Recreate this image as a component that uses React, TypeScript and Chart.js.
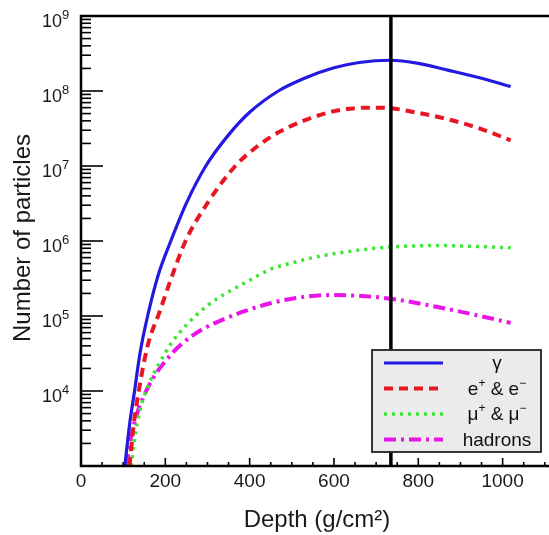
import React, { useEffect, useRef } from "react";
import { Chart, registerables } from "chart.js";

Chart.register(...registerables);

// ---- data (depth in g/cm^2, number of particles) ----
const gammaDepth = [104, 115, 127, 140, 158, 183, 213, 250, 296, 350, 400, 468, 530, 600, 660, 734, 800, 870, 950, 1019];
const gammaCount = [1.0e3, 3.5e3, 1.0e4, 3.2e4, 1.0e5, 3.5e5, 1.0e6, 3.2e6, 1.0e7, 2.6e7, 5.2e7, 1.0e8, 1.48e8, 2.04e8, 2.4e8, 2.57e8, 2.34e8, 1.9e8, 1.48e8, 1.15e8];

const elecDepth = [115, 124, 137, 158, 186, 215, 248, 300, 366, 420, 473, 527, 608, 686, 734, 800, 870, 950, 1019];
const elecCount = [1.0e3, 3.2e3, 1.0e4, 4.0e4, 1.12e5, 3.3e5, 1.0e6, 3.2e6, 1.0e7, 1.86e7, 2.9e7, 4.0e7, 5.5e7, 6.0e7, 5.9e7, 5.1e7, 4.2e7, 3.1e7, 2.2e7];

const muonDepth = [119, 128, 140, 160, 185, 215, 250, 300, 350, 400, 449, 500, 568, 663, 734, 845, 930, 1019];
const muonCount = [1.0e3, 2.5e3, 5.6e3, 1.2e4, 2.3e4, 4.4e4, 7.6e4, 1.38e5, 2.1e5, 3.0e5, 4.2e5, 5.1e5, 6.3e5, 7.6e5, 8.3e5, 8.7e5, 8.5e5, 8.1e5];

const hadronDepth = [108, 116, 130, 148, 170, 200, 240, 285, 335, 390, 449, 510, 591, 660, 734, 845, 940, 1019];
const hadronCount = [1.0e3, 2.0e3, 4.4e3, 8.3e3, 1.45e4, 2.5e4, 4.3e4, 6.5e4, 8.9e4, 1.17e5, 1.48e5, 1.74e5, 1.9e5, 1.86e5, 1.7e5, 1.32e5, 1.02e5, 8.1e4];

const markerDepth = 735;
const xTickLabels = [0, 200, 400, 600, 800, 1000];
const yDecades = [4, 5, 6, 7, 8, 9];

const FONT = "'Liberation Sans', Arial, Helvetica, sans-serif";
const BLUE = "rgb(35,25,225)";
const RED = "rgb(232,22,34)";
const GREEN = "rgb(60,230,50)";
const MAGENTA = "rgb(232,20,232)";

type Part = { t: string; sup?: boolean };

function richWidth(ctx: CanvasRenderingContext2D, parts: Part[], fs: number) {
  let w = 0;
  for (const p of parts) {
    ctx.font = `${p.sup ? Math.round(fs * 0.65) : fs}px ${FONT}`;
    w += ctx.measureText(p.t).width;
  }
  return w;
}

function drawRich(ctx: CanvasRenderingContext2D, parts: Part[], x: number, y: number, fs: number, align: "left" | "center" | "right") {
  const w = richWidth(ctx, parts, fs);
  let cx = align === "left" ? x : align === "center" ? x - w / 2 : x - w;
  ctx.textAlign = "left";
  ctx.textBaseline = "alphabetic";
  for (const p of parts) {
    const s = p.sup ? Math.round(fs * 0.65) : fs;
    ctx.font = `${s}px ${FONT}`;
    ctx.fillText(p.t, cx, p.sup ? y - fs * 0.42 : y);
    cx += ctx.measureText(p.t).width;
  }
}

const legendItems: { parts: Part[]; color: string; dash: number[]; width: number }[] = [
  { parts: [{ t: "γ" }], color: BLUE, dash: [], width: 3 },
  { parts: [{ t: "e" }, { t: "+", sup: true }, { t: " & e" }, { t: "−", sup: true }], color: RED, dash: [9, 6], width: 4 },
  { parts: [{ t: "μ" }, { t: "+", sup: true }, { t: " & μ" }, { t: "−", sup: true }], color: GREEN, dash: [3, 5], width: 3.5 },
  { parts: [{ t: "hadrons" }], color: MAGENTA, dash: [12, 5, 3, 5], width: 4 },
];

const decorPlugin = {
  id: "decor",
  afterDatasetsDraw(chart: any) {
    const ctx: CanvasRenderingContext2D = chart.ctx;
    const { left, right, top, bottom } = chart.chartArea;
    const xs = chart.scales.x;
    const ys = chart.scales.y;
    ctx.save();

    // legend box
    const lx = 372, ly = 350, lw = 169, lh = 102;
    ctx.fillStyle = "#ebebeb";
    ctx.fillRect(lx, ly, lw, lh);
    ctx.strokeStyle = "#222";
    ctx.lineWidth = 1.8;
    ctx.strokeRect(lx, ly, lw, lh);
    legendItems.forEach((it, i) => {
      const ry = 363 + i * 25.5;
      ctx.beginPath();
      ctx.setLineDash(it.dash);
      ctx.lineCap = "butt";
      ctx.strokeStyle = it.color;
      ctx.lineWidth = it.width;
      ctx.moveTo(384, ry);
      ctx.lineTo(443, ry);
      ctx.stroke();
      ctx.setLineDash([]);
      ctx.fillStyle = "#111";
      drawRich(ctx, it.parts, 497, ry + 6, 19, "center");
    });

    // frame
    ctx.strokeStyle = "#000";
    ctx.lineWidth = 2.5;
    ctx.beginPath();
    ctx.moveTo(right + 2, top);
    ctx.lineTo(left, top);
    ctx.lineTo(left, bottom);
    ctx.lineTo(right + 2, bottom);
    ctx.stroke();

    // x ticks (inside)
    ctx.lineWidth = 1.6;
    for (let v = 0; v <= 1100; v += 50) {
      const px = xs.getPixelForValue(v);
      if (px > right) break;
      const len = v % 200 === 0 ? 8 : 4;
      ctx.beginPath();
      ctx.moveTo(px, bottom);
      ctx.lineTo(px, bottom - len);
      ctx.stroke();
    }
    // y ticks (inside)
    for (let e = 3; e <= 8; e++) {
      for (let m = 1; m <= 9; m++) {
        const py = ys.getPixelForValue(m * Math.pow(10, e));
        const len = m === 1 ? 22 : 10;
        ctx.beginPath();
        ctx.moveTo(left, py);
        ctx.lineTo(left + len, py);
        ctx.stroke();
      }
    }
    {
      const py = ys.getPixelForValue(1e9);
      ctx.beginPath();
      ctx.moveTo(left, py);
      ctx.lineTo(left + 22, py);
      ctx.stroke();
    }

    // tick labels
    ctx.fillStyle = "#1a1a1a";
    ctx.font = `19px ${FONT}`;
    ctx.textAlign = "center";
    ctx.textBaseline = "alphabetic";
    for (const v of xTickLabels) {
      ctx.fillText(String(v), xs.getPixelForValue(v), 487);
    }
    for (const e of yDecades) {
      const py = ys.getPixelForValue(Math.pow(10, e));
      ctx.font = `18px ${FONT}`;
      ctx.textAlign = "right";
      ctx.fillText("10", 62, py + 11);
      ctx.font = `13px ${FONT}`;
      ctx.textAlign = "left";
      ctx.fillText(String(e), 62, py + 3);
    }

    // axis titles
    ctx.fillStyle = "#1a1a1a";
    ctx.font = `24px ${FONT}`;
    ctx.textAlign = "center";
    ctx.fillText("Depth (g/cm²)", 317, 527);
    ctx.save();
    ctx.translate(30, 238);
    ctx.rotate(-Math.PI / 2);
    ctx.fillText("Number of particles", 0, 0);
    ctx.restore();

    ctx.restore();
  },
};

function toPoints(xs: number[], ys: number[]) {
  return xs.map((x, i) => ({ x, y: ys[i] }));
}

export default function App() {
  const ref = useRef<HTMLCanvasElement | null>(null);
  useEffect(() => {
    if (!ref.current) return;
    const common = { pointRadius: 0, fill: false, cubicInterpolationMode: "monotone" as const, borderCapStyle: "butt" as const };
    const chart = new Chart(ref.current, {
      type: "line",
      data: {
        datasets: [
          { label: "marker", data: [{ x: markerDepth, y: 1e3 }, { x: markerDepth, y: 1e9 }], borderColor: "#000", borderWidth: 3.5, pointRadius: 0, order: 0 },
          { label: "γ", data: toPoints(gammaDepth, gammaCount), borderColor: BLUE, borderWidth: 3.2, order: 1, ...common },
          { label: "e+ & e-", data: toPoints(elecDepth, elecCount), borderColor: RED, borderWidth: 4, borderDash: [9, 6], order: 2, ...common },
          { label: "μ+ & μ-", data: toPoints(muonDepth, muonCount), borderColor: GREEN, borderWidth: 3.5, borderDash: [3, 5], order: 3, ...common },
          { label: "hadrons", data: toPoints(hadronDepth, hadronCount), borderColor: MAGENTA, borderWidth: 4, borderDash: [12, 5, 3, 5], order: 4, ...common },
        ],
      },
      options: {
        animation: false,
        responsive: false,
        events: [],
        layout: { padding: { left: 0, top: 16, right: 0, bottom: 0 } },
        plugins: { legend: { display: false }, tooltip: { enabled: false }, title: { display: false } },
        scales: {
          x: {
            type: "linear",
            min: 0,
            max: 1110,
            grid: { display: false },
            border: { display: false },
            ticks: { display: false },
            afterFit: (s: any) => { s.height = 69; },
          },
          y: {
            type: "logarithmic",
            min: 1e3,
            max: 1e9,
            grid: { display: false },
            border: { display: false },
            ticks: { display: false },
            afterFit: (s: any) => { s.width = 81; },
          },
        },
      },
      plugins: [decorPlugin],
    });
    return () => chart.destroy();
  }, []);
  return (
    <div style={{ position: "fixed", left: 0, top: 0, width: 549, height: 535, background: "#fff" }}>
      <canvas ref={ref} width={549} height={535} style={{ display: "block" }} />
    </div>
  );
}
